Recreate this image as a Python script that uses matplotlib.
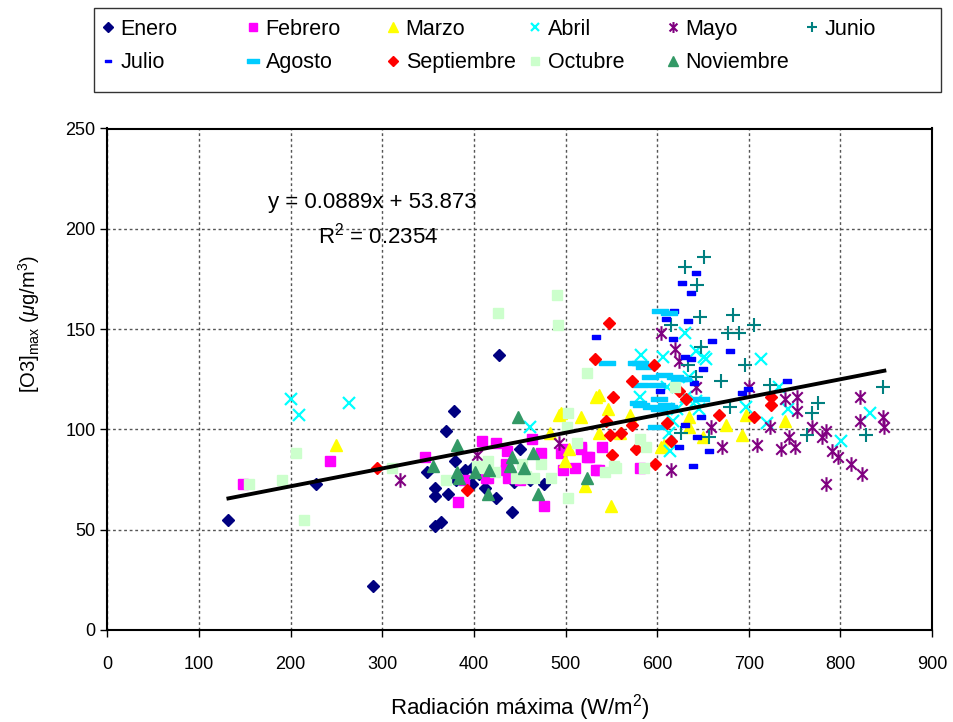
import numpy as np
import matplotlib
matplotlib.use("Agg")
import matplotlib.pyplot as plt
from matplotlib.path import Path
from matplotlib.patches import Rectangle

plt.rcParams['font.family'] = ['Liberation Sans', 'DejaVu Sans']
plt.rcParams['mathtext.fontset'] = 'custom'
plt.rcParams['mathtext.rm'] = 'Liberation Sans'
plt.rcParams['mathtext.it'] = 'Liberation Sans:italic'

# ---- data (radiacion maxima W/m2, [O3]max ug/m3) ----
enero_x = [132, 228, 290, 427, 378, 369, 349, 357, 357, 372, 357, 364, 379, 390, 398, 398, 380, 450, 412, 424, 441, 444, 461, 476, 405]
enero_y = [55, 73, 22, 137, 109, 99, 79, 71, 67, 68, 52, 54, 84, 80, 81, 73, 75, 90, 71, 66, 59, 74, 75, 73, 78]
febrero_x = [148, 243, 347, 383, 389, 409, 424, 436, 435, 437, 413, 435, 450, 453, 463, 473, 476, 495, 497, 497, 510, 517, 517, 523, 526, 533, 537, 540, 581, 415]
febrero_y = [73, 84, 86, 64, 75, 94, 93, 89, 83, 76, 76, 80, 75, 76, 95, 88, 62, 88, 80, 90, 81, 91, 90, 86, 86, 80, 80, 91, 81, 76]
marzo_x = [249, 493, 517, 533, 537, 483, 504, 499, 521, 550, 495, 546, 570, 536, 559, 604, 607, 635, 635, 650, 675, 693, 697, 739]
marzo_y = [92, 107, 106, 116, 117, 98, 90, 84, 72, 62, 108, 110, 107, 98, 98, 91, 92, 101, 106, 96, 102, 97, 107, 104]
abril_x = [200, 209, 264, 461, 582, 606, 630, 642, 651, 653, 581, 611, 622, 617, 614, 635, 642, 646, 613, 632, 697, 713, 733, 720, 743, 832, 801]
abril_y = [115, 107, 113, 101, 137, 136, 148, 139, 136, 135, 116, 121, 110, 104, 89, 126, 114, 110, 98, 116, 111, 135, 121, 103, 110, 108, 94]
mayo_x = [319, 403, 493, 604, 619, 624, 642, 659, 671, 615, 700, 709, 723, 740, 753, 753, 735, 750, 744, 769, 784, 780, 791, 797, 812, 824, 784, 821, 821, 846, 848]
mayo_y = [75, 87, 93, 148, 140, 134, 121, 101, 91, 80, 121, 92, 101, 115, 116, 109, 90, 91, 96, 101, 99, 96, 89, 86, 83, 78, 73, 116, 104, 106, 101]
junio_x = [651, 630, 644, 647, 683, 706, 677, 689, 615, 648, 696, 670, 634, 642, 723, 679, 626, 657, 776, 769, 764, 828, 846]
junio_y = [186, 181, 172, 156, 157, 152, 148, 148, 152, 141, 132, 124, 132, 126, 122, 111, 98, 96, 113, 108, 97, 97, 121]
julio_x = [642, 627, 637, 618, 610, 634, 533, 617, 660, 679, 630, 637, 650, 640, 603, 693, 699, 742, 648, 630, 644, 624, 657, 639]
julio_y = [178, 173, 168, 159, 155, 154, 146, 145, 144, 139, 136, 135, 130, 123, 119, 118, 120, 124, 106, 102, 96, 91, 89, 82]
agosto_x = [603, 613, 545, 577, 581, 586, 592, 608, 619, 628, 581, 600, 602, 582, 593, 613, 602, 599, 648, 579, 610, 624]
agosto_y = [159, 158, 133, 133, 133, 131, 126, 127, 126, 125, 122, 122, 115, 112, 111, 111, 110, 101, 115, 113, 112, 125]
septiembre_x = [294, 392, 532, 547, 573, 552, 596, 544, 548, 561, 573, 551, 577, 598, 611, 615, 624, 632, 668, 706, 724, 724]
septiembre_y = [81, 70, 135, 153, 124, 116, 132, 104, 97, 98, 102, 87, 90, 83, 103, 94, 119, 115, 107, 106, 112, 116]
octubre_x = [155, 191, 206, 214, 311, 370, 403, 408, 423, 426, 491, 492, 523, 503, 502, 513, 452, 473, 454, 466, 484, 503, 415, 446, 457, 543, 555, 581, 588, 586, 620, 553]
octubre_y = [73, 75, 88, 55, 81, 75, 82, 81, 79, 158, 167, 152, 128, 108, 101, 93, 83, 83, 76, 76, 76, 66, 84, 76, 77, 79, 81, 95, 91, 81, 121, 82]
noviembre_x = [381, 355, 381, 384, 401, 416, 415, 448, 442, 455, 465, 470, 439, 523]
noviembre_y = [92, 82, 79, 76, 79, 80, 68, 106, 86, 81, 88, 68, 82, 76]

slope = 0.0889
intercept = 53.873

# ---- marker shapes ----
star = Path([(0, -1), (0, 1), (-0.72, -0.72), (0.72, 0.72), (-0.72, 0.72), (0.72, -0.72)],
            [Path.MOVETO, Path.LINETO, Path.MOVETO, Path.LINETO, Path.MOVETO, Path.LINETO])
dash = Path([(-1, -0.45), (1, -0.45), (1, 0.45), (-1, 0.45), (-1, -0.45)],
            [Path.MOVETO, Path.LINETO, Path.LINETO, Path.LINETO, Path.CLOSEPOLY])
dash_long = Path([(-1, -0.32), (1, -0.32), (1, 0.32), (-1, 0.32), (-1, -0.32)],
                 [Path.MOVETO, Path.LINETO, Path.LINETO, Path.LINETO, Path.CLOSEPOLY])

series = [
    ("Enero", enero_x, enero_y, dict(marker='D', color='#000080', ms=6.4)),
    ("Febrero", febrero_x, febrero_y, dict(marker='s', color='#FF00FF', ms=7.2)),
    ("Marzo", marzo_x, marzo_y, dict(marker='^', color='#FFFF00', ms=8.8)),
    ("Abril", abril_x, abril_y, dict(marker='x', color='#00FFFF', ms=8.5, mew=1.6)),
    ("Mayo", mayo_x, mayo_y, dict(marker=star, color='#800080', ms=10.5, mew=1.5)),
    ("Junio", junio_x, junio_y, dict(marker='+', color='#008080', ms=10.5, mew=1.5)),
    ("Julio", julio_x, julio_y, dict(marker=dash, color='#0000FF', ms=6)),
    ("Agosto", agosto_x, agosto_y, dict(marker=dash_long, color='#00CCFF', ms=11)),
    ("Septiembre", septiembre_x, septiembre_y, dict(marker='D', color='#FF0000', ms=6.4)),
    ("Octubre", octubre_x, octubre_y, dict(marker='s', color='#CCFFCC', ms=7.2)),
    ("Noviembre", noviembre_x, noviembre_y, dict(marker='^', color='#339966', ms=8.8)),
]

W, H = 954, 722
fig = plt.figure(figsize=(W / 100, H / 100), dpi=100)
ax = fig.add_axes([107.5 / W, (H - 630) / H, (932 - 107.5) / W, (630 - 128.5) / H])

handles = []
for name, xs, ys, st in series:
    st = dict(st)
    c = st.pop('color')
    h, = ax.plot(xs, ys, linestyle='none', color=c, markerfacecolor=c,
                 markeredgecolor=c, label=name, zorder=3, **st)
    handles.append(h)

# trend line over the data range
all_x = np.concatenate([np.array(s[1], float) for s in series])
xl = np.array([all_x.min(), all_x.max()])
ax.plot(xl, slope * xl + intercept, color='black', lw=2.8, zorder=4)

ax.text(175, 213, "y = 0.0889x + 53.873", fontsize=16, ha='left', va='center')
ax.text(230, 196.5, "R$^2$ = 0.2354", fontsize=16, ha='left', va='center')

ax.set_xlim(0, 900)
ax.set_ylim(0, 250)
ax.set_xticks(np.arange(0, 901, 100))
ax.set_yticks(np.arange(0, 251, 50))
ax.grid(True, linestyle=(0, (2, 2)), color='#555555', lw=1)
ax.set_axisbelow(True)
ax.tick_params(direction='out', length=5, width=1, labelsize=13)
ax.tick_params(axis='x', pad=14)
for sp in ax.spines.values():
    sp.set_linewidth(1.5)
    sp.set_color('black')

ax.set_xlabel("Radiación máxima (W/m$^2$)", fontsize=16, labelpad=13.4)
ax.set_ylabel("[O3]$_{\\rm max}$ ($\\mu$g/m$^3$)", fontsize=14.5)
ax.yaxis.set_label_coords(-0.08, 0.61)

# legend box with six columns
fig.add_artist(Rectangle((94 / W, 1 - 92 / H), (941 - 94) / W, (92 - 8) / H,
                         transform=fig.transFigure, fill=False, edgecolor='#333333', lw=1))
col_x = [108, 253, 393, 535, 673, 812]
for i, cx in enumerate(col_x):
    col = [handles[i]]
    if i + 6 < len(handles):
        col.append(handles[i + 6])
    fig.legend(handles=col, loc='upper left', bbox_to_anchor=((cx - 10) / W, 1 - 19 / H),
               frameon=False, fontsize=15.5, handlelength=0.9, handletextpad=0.15,
               labelspacing=0.56, borderpad=0, borderaxespad=0, markerscale=0.75)

fig.savefig("out.png", dpi=100)
